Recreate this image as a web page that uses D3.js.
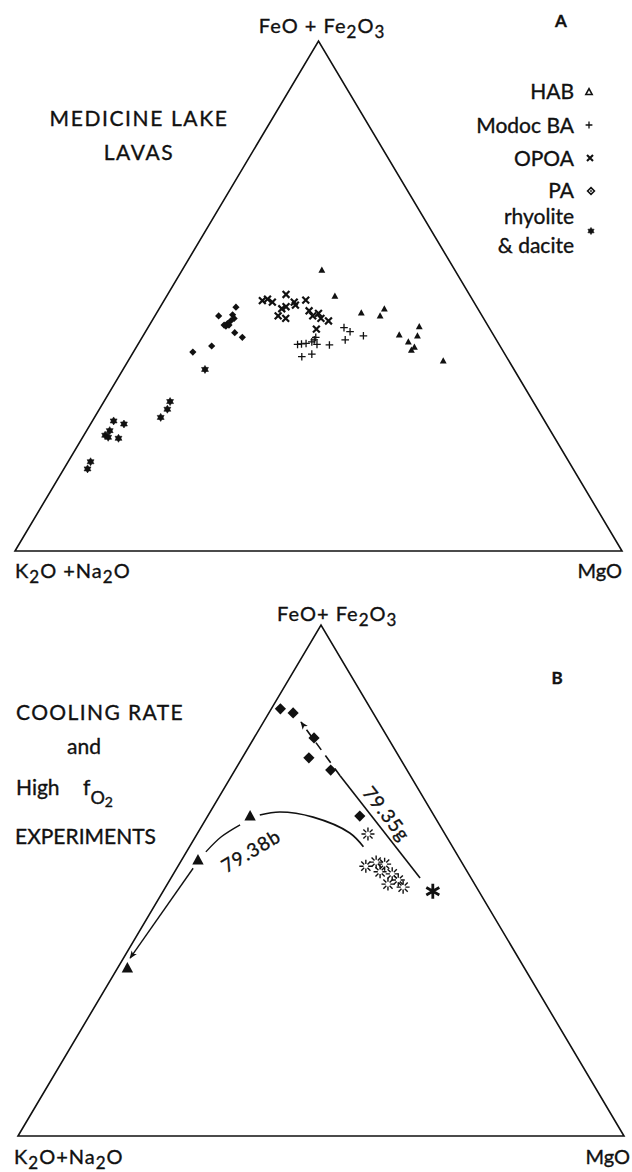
<!DOCTYPE html>
<html>
<head>
<meta charset="utf-8">
<script src="https://cdn.jsdelivr.net/npm/d3@7"></script>
<style>
  body { margin: 0; background: #fff; }
  svg { display: block; }
  text { font-family: Lato, "Noto Sans", sans-serif; fill: #111; stroke: #111; stroke-width: 0.35; }
</style>
</head>
<body>
<svg id="chart" width="632" height="1172"></svg>
<script>
// Compositions are [K2O+Na2O, FeO+Fe2O3, MgO] as percent of the three-component sum.

// Panel A: Medicine Lake lavas
const habLavas = [
  [21.9, 55.1, 23.0], [22.3, 50.0, 27.7], [19.6, 46.7, 33.7], [15.5, 47.5, 37.1],
  [16.8, 46.1, 37.1], [15.5, 42.4, 42.1], [11.4, 44.0, 44.6], [14.7, 41.0, 44.3],
  [12.6, 42.2, 45.2], [14.2, 40.0, 45.8], [15.0, 39.4, 45.6], [10.8, 37.3, 51.9]
];
const modocBA = [
  [23.9, 43.8, 32.3], [23.3, 43.0, 33.7], [21.5, 42.2, 36.3], [24.9, 41.4, 33.7],
  [28.0, 40.4, 31.6], [29.5, 41.9, 28.6], [30.0, 41.4, 28.6], [33.2, 40.5, 26.3],
  [32.5, 40.6, 26.9], [31.7, 40.7, 27.6], [30.6, 41.0, 28.4], [30.0, 40.5, 29.5],
  [33.7, 38.1, 28.2], [31.8, 38.6, 29.6]
];
const opoa = [
  [34.7, 49.1, 16.2], [33.7, 49.4, 16.9], [33.2, 48.8, 18.0], [30.2, 50.3, 19.5],
  [32.3, 47.5, 20.2], [31.4, 47.9, 20.7], [29.6, 48.8, 21.6], [29.7, 48.2, 22.1],
  [27.5, 49.2, 23.3], [33.6, 46.1, 20.3], [32.6, 45.6, 21.8], [28.0, 47.1, 24.9],
  [27.9, 46.1, 26.0], [26.7, 46.6, 26.7], [26.8, 45.6, 27.6], [25.8, 45.1, 29.1],
  [28.7, 43.5, 27.9]
];
const paLavas = [
  [39.7, 47.8, 12.5], [43.4, 46.1, 10.5], [41.0, 46.3, 12.7], [41.1, 45.6, 13.3],
  [41.8, 45.2, 13.0], [42.7, 44.6, 12.7], [43.2, 44.1, 12.7], [42.6, 44.3, 13.1],
  [43.4, 44.3, 12.3], [42.4, 42.8, 14.8], [41.6, 41.9, 16.5], [47.5, 40.2, 12.3],
  [51.2, 39.0, 9.8]
];
const rhyoliteDacite = [
  [50.9, 35.6, 13.5], [59.8, 29.3, 10.9], [61.0, 27.8, 11.2], [62.9, 26.2, 10.9],
  [71.0, 25.5, 3.5], [69.6, 24.9, 5.5], [72.6, 23.6, 3.8], [73.8, 22.7, 3.5],
  [73.5, 22.3, 4.2], [71.9, 22.1, 6.0], [78.9, 17.5, 3.7], [80.0, 16.1, 3.9]
];
const legendLabels = ["HAB", "Modoc BA", "OPOA", "PA", "rhyolite", "& dacite"];

// Panel B: cooling-rate and high fO2 experiments
const run7935g = [
  [15.0, 83.6, 1.5], [13.2, 82.8, 4.0], [12.2, 77.9, 9.9],
  [15.0, 74.0, 11.0], [12.5, 71.6, 15.8], [12.3, 62.6, 25.1]
];
const run7938b = [[30.4, 62.6, 7.0], [43.3, 54.0, 2.7], [65.6, 32.9, 1.6]];
const startingGlass = [
  [12.7, 59.1, 28.2], [16.2, 52.8, 31.0], [14.1, 53.6, 32.3], [12.8, 53.2, 33.9],
  [14.4, 51.7, 33.9], [12.6, 51.3, 36.1], [12.3, 50.1, 37.7], [12.1, 48.7, 39.2],
  [13.9, 49.3, 36.4]
];
const bulkRock = [[7.5, 47.9, 44.5]];
// liquid-line paths
const trend7935gSolid = [[8.4, 50.5, 41.1], [11.6, 70.5, 17.9]];
const trend7935gDashed = [[11.6, 70.5, 17.9], [12.8, 81.0, 6.2]];
const trend7938bUpper = [[14.8, 56.6, 28.7], [15.6, 59.3, 25.1], [20.1, 62.4, 17.5], [25.1, 63.4, 11.5], [28.7, 62.8, 8.5]];
const trend7938bMiddle = [[32.9, 60.9, 6.2], [37.1, 58.6, 4.3], [41.2, 55.6, 3.2]];
const trend7938bLower = [[44.9, 52.4, 2.7], [64.1, 34.8, 1.1]];
const runLabels = ["79.35g", "79.38b"];

const svg = d3.select("#chart");
const INK = "#111";

// ternary projection: alkalis bottom-left, iron at apex, MgO bottom-right
function ternary(left, right, base, top) {
  const x = d3.scaleLinear().domain([0, 100]).range([left, right]);
  const y = d3.scaleLinear().domain([0, 100]).range([base, top]);
  return d => [x(d[2] + d[1] / 2), y(d[1])];
}
const projA = ternary(15, 622, 551, 41);
const projB = ternary(18, 624, 1136, 625);

function frame(proj) {
  const corners = [[100, 0, 0], [0, 100, 0], [0, 0, 100]].map(proj);
  svg.append("path")
    .attr("d", d3.line()(corners) + "Z")
    .attr("fill", "none").attr("stroke", INK)
    .attr("stroke-width", 1.6).attr("stroke-linejoin", "miter");
}
frame(projA);
frame(projB);

// marker shapes
const shapes = {
  tri: r => `M0,${-r}L${r * 0.95},${r * 0.75}L${-r * 0.95},${r * 0.75}Z`,
  diamond: r => `M0,${-r}L${r},0L0,${r}L${-r},0Z`,
  plus: r => `M${-r},0H${r}M0,${-r}V${r}`,
  cross: r => `M${-r},${-r}L${r},${r}M${r},${-r}L${-r},${r}`,
  hexagram: r => {
    const t = a => [r * Math.sin(a), -r * Math.cos(a)];
    const p1 = [0, 2, 4].map(k => t(k * Math.PI / 3));
    const p2 = [1, 3, 5].map(k => t(k * Math.PI / 3));
    return d3.line()(p1) + "Z" + d3.line()(p2) + "Z";
  },
  spokes: (r, r0, n) => d3.range(n).map(k => {
    const a = k * Math.PI / (n / 2) + Math.PI / 2;
    return `M${r0 * Math.cos(a)},${r0 * Math.sin(a)}L${r * Math.cos(a)},${r * Math.sin(a)}`;
  }).join("")
};

function plot(data, proj, d, style) {
  const sel = svg.append("g").selectAll("path").data(data).join("path")
    .attr("transform", p => `translate(${proj(p)})`)
    .attr("d", d);
  Object.entries(style).forEach(([k, v]) => sel.attr(k, v));
  return sel;
}

// ---- Panel A points
plot(habLavas, projA, shapes.tri(3.6), { fill: INK });
plot(modocBA, projA, shapes.plus(3.8), { fill: "none", stroke: INK, "stroke-width": 1.3 });
plot(opoa, projA, shapes.cross(3.4), { fill: "none", stroke: INK, "stroke-width": 2.2 });
plot(paLavas, projA, shapes.diamond(3.6), { fill: INK });
plot(rhyoliteDacite, projA, shapes.hexagram(4.0), { fill: INK, stroke: INK, "stroke-width": 0.6 });

// ---- Panel A text
function chem(x, y, parts, anchor, size) {
  const t = svg.append("text").attr("x", x).attr("y", y)
    .attr("text-anchor", anchor).attr("font-size", size).attr("letter-spacing", 1);
  let low = false;
  parts.forEach(([s, sub]) => {
    const sp = t.append("tspan").text(s);
    if (sub && !low) { sp.attr("dy", 5).attr("font-size", size * 0.85); low = true; }
    else if (!sub && low) { sp.attr("dy", -5); low = false; }
  });
  return t;
}
chem(322, 33, [["FeO + Fe"], ["2", 1], ["O"], ["3", 1]], "middle", 20);
chem(15, 578, [["K"], ["2", 1], ["O +Na"], ["2", 1], ["O"]], "start", 20);
svg.append("text").attr("x", 622).attr("y", 578).attr("text-anchor", "end")
  .attr("font-size", 20).text("MgO");
svg.append("text").attr("x", 561).attr("y", 27).attr("text-anchor", "middle")
  .attr("font-size", 17).attr("font-weight", 700).text("A");

svg.append("text").attr("x", 139).attr("y", 126).attr("text-anchor", "middle")
  .attr("font-size", 21).attr("letter-spacing", 1.6).text("MEDICINE  LAKE");
svg.append("text").attr("x", 139).attr("y", 160).attr("text-anchor", "middle")
  .attr("font-size", 21).attr("letter-spacing", 1.6).text("LAVAS");

// legend
const legendY = [99, 133, 166, 198, 224, 253];
legendLabels.forEach((s, i) => {
  svg.append("text").attr("x", 574).attr("y", legendY[i]).attr("text-anchor", "end")
    .attr("font-size", 21).text(s);
});
const lg = svg.append("g").attr("fill", "none").attr("stroke", INK);
lg.append("path").attr("transform", "translate(589,92)").attr("d", shapes.tri(3.3)).attr("stroke-width", 1.6).attr("fill", "#fff");
lg.append("path").attr("transform", "translate(589,125)").attr("d", shapes.plus(3.4)).attr("stroke-width", 1.3);
lg.append("path").attr("transform", "translate(590,158)").attr("d", shapes.cross(3)).attr("stroke-width", 2.1);
lg.append("path").attr("transform", "translate(591,191)").attr("d", shapes.diamond(3.4)).attr("stroke-width", 1.6);
lg.append("circle").attr("cx", 591).attr("cy", 191).attr("r", 0.9).attr("fill", INK).attr("stroke", "none");
lg.append("path").attr("transform", "translate(591,231)").attr("d", shapes.hexagram(3.6)).attr("fill", INK).attr("stroke-width", 0.6);

// ---- Panel B
const defs = svg.append("defs");
defs.append("marker").attr("id", "head").attr("viewBox", "0 0 10 10")
  .attr("refX", 9).attr("refY", 5).attr("markerWidth", 8).attr("markerHeight", 8)
  .attr("markerUnits", "userSpaceOnUse").attr("orient", "auto")
  .append("path").attr("d", "M0,1L10,5L0,9L2.5,5Z").attr("fill", INK);

const lineB = d3.line().x(d => projB(d)[0]).y(d => projB(d)[1]);
const curveB = d3.line().x(d => projB(d)[0]).y(d => projB(d)[1]).curve(d3.curveCatmullRom.alpha(0.5));

svg.append("path").attr("d", lineB(trend7935gSolid))
  .attr("fill", "none").attr("stroke", INK).attr("stroke-width", 1.6);
svg.append("path").attr("d", lineB(trend7935gDashed))
  .attr("fill", "none").attr("stroke", INK).attr("stroke-width", 1.6)
  .attr("stroke-dasharray", "9,7").attr("marker-end", "url(#head)");

svg.append("path").attr("d", curveB(trend7938bUpper))
  .attr("fill", "none").attr("stroke", INK).attr("stroke-width", 1.6);
svg.append("path").attr("d", curveB(trend7938bMiddle))
  .attr("fill", "none").attr("stroke", INK).attr("stroke-width", 1.4);
svg.append("path").attr("d", lineB(trend7938bLower))
  .attr("fill", "none").attr("stroke", INK).attr("stroke-width", 1.4)
  .attr("marker-end", "url(#head)");

plot(run7935g, projB, shapes.diamond(5.6), { fill: INK });
plot(run7938b, projB, shapes.tri(6), { fill: INK });
plot(startingGlass, projB, shapes.spokes(6.5, 2.3, 8), { fill: "none", stroke: INK, "stroke-width": 1.4 });
plot(bulkRock, projB, shapes.spokes(7.5, 0, 6), { fill: "none", stroke: INK, "stroke-width": 2.8 });

// run labels set along their trends
{
  const a = projB(trend7935gSolid[0]), b = projB(trend7935gSolid[1]);
  const ang = Math.atan2(a[1] - b[1], a[0] - b[0]);
  const len = Math.hypot(a[0] - b[0], a[1] - b[1]);
  const ux = (a[0] - b[0]) / len, uy = (a[1] - b[1]) / len;
  const cx = a[0] + (b[0] - a[0]) * 0.55 + uy * 13, cy = a[1] + (b[1] - a[1]) * 0.55 - ux * 13;
  svg.append("text").attr("transform", `translate(${cx},${cy}) rotate(${ang * 180 / Math.PI})`)
    .attr("text-anchor", "middle").attr("dy", "0.35em").attr("font-size", 19)
    .attr("letter-spacing", 0.8).text(runLabels[0]);
}
{
  const a = projB(run7938b[1]), b = projB(run7938b[0]);
  const cx = (a[0] + b[0]) / 2 + 27, cy = (a[1] + b[1]) / 2 + 13;
  svg.append("text").attr("transform", `translate(${cx},${cy}) rotate(-31)`)
    .attr("text-anchor", "middle").attr("dy", "0.35em").attr("font-size", 19)
    .attr("letter-spacing", 1).text(runLabels[1]);
}

// Panel B text
chem(277, 621, [["FeO+ Fe"], ["2", 1], ["O"], ["3", 1]], "start", 20);
chem(14, 1164, [["K"], ["2", 1], ["O+Na"], ["2", 1], ["O"]], "start", 20);
svg.append("text").attr("x", 630).attr("y", 1164).attr("text-anchor", "end")
  .attr("font-size", 20).text("MgO");
svg.append("text").attr("x", 557).attr("y", 684).attr("text-anchor", "middle")
  .attr("font-size", 17).attr("font-weight", 700).text("B");

svg.append("text").attr("x", 16).attr("y", 720).attr("font-size", 21)
  .attr("letter-spacing", 1.4).text("COOLING RATE");
svg.append("text").attr("x", 84).attr("y", 754).attr("text-anchor", "middle")
  .attr("font-size", 21).text("and");
const hf = svg.append("text").attr("x", 16).attr("y", 795).attr("font-size", 21);
hf.append("tspan").text("High");
hf.append("tspan").attr("x", 83).text("f");
hf.append("tspan").attr("dy", 9).attr("font-size", 18).text("O");
hf.append("tspan").attr("dy", 3).attr("font-size", 14).text("2");
svg.append("text").attr("x", 15).attr("y", 844).attr("font-size", 21)
  .text("EXPERIMENTS");
</script>
</body>
</html>
